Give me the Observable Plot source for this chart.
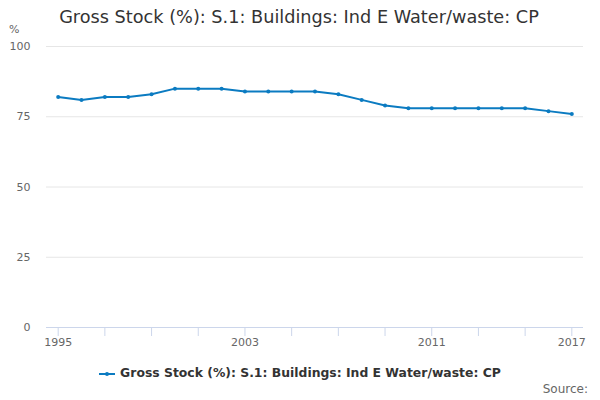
<!DOCTYPE html>
<html>
<head>
<meta charset="utf-8">
<script src="https://cdn.jsdelivr.net/npm/d3@7"></script>
<script src="https://cdn.jsdelivr.net/npm/@observablehq/plot@0.6"></script>
<style>
  html, body { margin: 0; padding: 0; background: #fff; }
  #wrap { position: relative; width: 600px; height: 400px; font-family: "DejaVu Sans", sans-serif; overflow: hidden; }
  #title { position: absolute; left: 0; top: 5px; width: 598px; text-align: center; font-size: 17.7px; color: #333; line-height: 24px; }
  #unit { position: absolute; left: 9px; top: 23px; font-size: 11px; color: #666; }
  #chart { position: absolute; left: 0; top: 36px; }
  #legend { position: absolute; left: 0; top: 365px; width: 600px; text-align: center; font-size: 12.4px; font-weight: bold; color: #333; }
  #legend svg { vertical-align: middle; margin-right: 5px; }
  #source { position: absolute; right: 12px; top: 382px; font-size: 12px; color: #666; }
</style>
</head>
<body>
<div id="wrap">
  <div id="title">Gross Stock (%): S.1: Buildings: Ind E Water/waste: CP</div>
  <div id="unit">%</div>
  <div id="chart"></div>
  <div id="legend"></div>
  <div id="source">Source:</div>
</div>
<script>
const years = [1995,1996,1997,1998,1999,2000,2001,2002,2003,2004,2005,2006,2007,2008,2009,2010,2011,2012,2013,2014,2015,2016,2017];
const values = [82,81,82,82,83,85,85,85,84,84,84,84,83,81,79,78,78,78,78,78,78,77,76];
const seriesName = "Gross Stock (%): S.1: Buildings: Ind E Water/waste: CP";
const yTicks = [0,25,50,75,100];
const xTicks = [1995,1997,1999,2001,2003,2005,2007,2009,2011,2013,2015,2017];
const xLabels = [1995,2003,2011,2017];
const lineColor = "#0b7bc1";

const data = years.map((y, i) => ({year: y, value: values[i]}));

const plot = Plot.plot({
  width: 600,
  height: 320,
  marginTop: 10,
  marginBottom: 29,
  marginLeft: 46,
  marginRight: 17,
  style: {fontFamily: "DejaVu Sans, sans-serif", fontSize: "11px", color: "#666", background: "#fff"},
  x: {domain: [years[0] - 0.5, years[years.length - 1] + 0.5], label: null},
  y: {domain: [0, 100], label: null},
  marks: [
    Plot.gridY(yTicks, {stroke: "#e6e6e6", strokeOpacity: 1}),
    Plot.axisY(yTicks, {tickSize: 0, tickPadding: 16, fill: "#666", label: null, tickFormat: d => d}),
    Plot.ruleY([0], {stroke: "#ccd6eb"}),
    Plot.axisX(xTicks, {tickSize: 9, tickPadding: 2, stroke: "#ccd6eb", fill: "#666", label: null,
      tickFormat: d => xLabels.includes(d) ? String(d) : ""}),
    Plot.line(data, {x: "year", y: "value", stroke: lineColor, strokeWidth: 2}),
    Plot.dot(data, {x: "year", y: "value", r: 2, fill: lineColor, stroke: null})
  ]
});
document.getElementById("chart").appendChild(plot);

const legend = document.getElementById("legend");
legend.innerHTML = `<svg width="16" height="10"><line x1="0" y1="5" x2="16" y2="5" stroke="${lineColor}" stroke-width="2"/><circle cx="8" cy="5" r="2" fill="${lineColor}"/></svg>` ;
legend.appendChild(document.createTextNode(seriesName));
</script>
</body>
</html>
